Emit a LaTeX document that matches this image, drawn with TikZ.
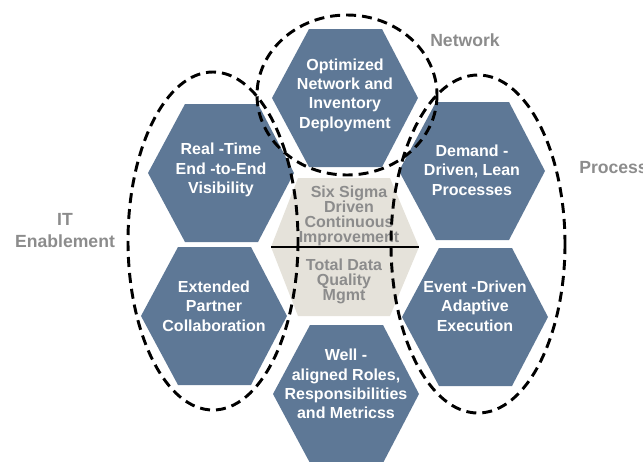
\documentclass[tikz,border=0pt]{standalone}
\usepackage{fontspec}
\setmainfont{Liberation Sans}
\definecolor{hexblue}{RGB}{94,120,150}
\definecolor{hexgray}{RGB}{229,226,218}
\definecolor{labelgray}{RGB}{140,140,140}

\begin{document}
\begin{tikzpicture}[x=0.75pt, y=-0.75pt]
      \tikzset{
  cell/.style={
    fill=hexblue
  },
  cell text/.style={
    text=white,
    align=center,
    font=\fontsize{12}{14.5}\selectfont\bfseries
  },
  core text/.style={
    text=labelgray,
    align=center,
    font=\fontsize{12}{11.3}\selectfont\bfseries
  },
  group/.style={
    draw=black,
    line width=2.2pt,
    dash pattern=on 7.5pt off 4.5pt
  },
  group label/.style={
    text=labelgray,
    align=center,
    inner sep=0pt,
    font=\fontsize{13.2}{16.5}\selectfont\bfseries
  }
}
\useasboundingbox (0,0) rectangle (643,461);

% outer cells: name/x/y/text y/text
\foreach \n/\x/\y/\ty/\t in {
    net/345/98/95/{Optimized\\Network and\\Inventory\\Deployment},
    rt/221/173/170/{Real -Time\\End -to-End\\Visibility},
    dd/472/171/170/{Demand -\\Driven, Lean\\Processes},
    ep/214/316/306/{Extended\\Partner\\Collaboration},
    ed/475/317/306/{Event -Driven\\Adaptive\\Execution},
    wa/346/394/384/{Well  -\\aligned Roles,\\Responsibilities\\and Metricss}}
{
  \fill [cell] (\x-73,\y) -- (\x-36,\y-69) -- (\x+37,\y-69) -- (\x+73,\y)
    -- (\x+37,\y+69) -- (\x-36,\y+69) -- cycle;
  \node [cell text] (cell-\n) at (\x,\ty) {\t};
}

% centre cell
\coordinate (core-w) at (271,247);
\coordinate (core-e) at (419,247);
\fill [hexgray] (core-w) -- (298,178) -- (390,178) -- (core-e)
  -- (390,316) -- (298,316) -- cycle;
\draw [line width=0.8pt] (core-w) -- (core-e);
\node [core text] (core-top) at (349,216) {Six Sigma\\Driven\\Continuous\\Improvement};
\node [core text] (core-bottom) at (344,281) {Total Data\\Quality\\Mgmt};

% dashed groups
\foreach \x/\y/\rx/\ry in {347/95/90/80, 213/241/85/169, 478/244/87/169}
  \draw [group] (\x,\y) ellipse [x radius=\rx, y radius=\ry];

\node [group label, anchor=west] (label-net) at (430,40) {Network};
\node [group label, anchor=west] (label-proc) at (579,168) {Process};
\node [group label] (label-it) at (65,231) {IT\\Enablement};
    \end{tikzpicture}
\end{document}
